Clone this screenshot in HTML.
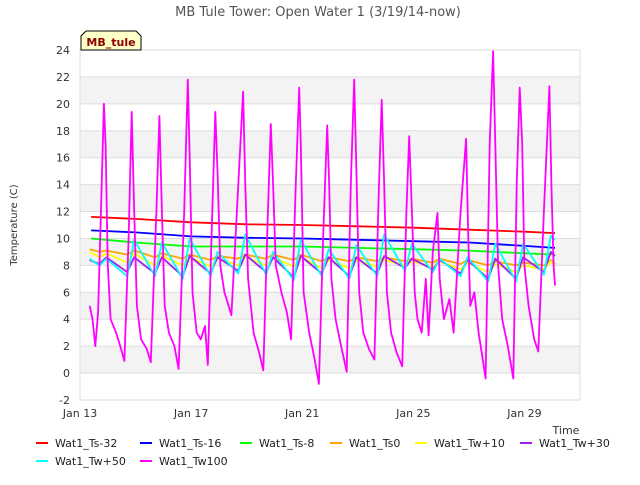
<!DOCTYPE html>
<html><head><meta charset="utf-8"><style>
body{margin:0;background:#fff;font-family:"Liberation Sans",sans-serif;}
svg text{font-family:"DejaVu Sans","Liberation Sans",sans-serif;}
</style></head><body>
<svg id="c" width="640" height="480" xmlns="http://www.w3.org/2000/svg">
<text x="318" y="16" text-anchor="middle" font-size="13" fill="#555">MB Tule Tower: Open Water 1 (3/19/14-now)</text>
<text transform="translate(17,225) rotate(-90)" text-anchor="middle" font-size="10" fill="#333">Temperature (C)</text>
<text x="566" y="434" text-anchor="middle" font-size="11" fill="#333">Time</text>
<g id="bands"></g><g id="grid"></g><g id="series"></g><g id="ticks"></g>
<rect x="80" y="50" width="500" height="350" fill="none" stroke="#ddd"/>
<g>
<path d="M81,50 L81,36 L86,31 L136,31 L141,36 L141,50 Z" fill="#ffffc8" stroke="#000"/>
<text x="111" y="46" text-anchor="middle" font-size="11" font-weight="bold" fill="#8b0000">MB_tule</text>
</g>
<g id="legend"></g>
</svg>
<script>
const yTicks=[-2,0,2,4,6,8,10,12,14,16,18,20,22,24];
const xTickDays=[0,4,8,12,16];
const xTickLabels=["Jan 13","Jan 17","Jan 21","Jan 25","Jan 29"];
const seriesNames=["Wat1_Ts-32","Wat1_Ts-16","Wat1_Ts-8","Wat1_Ts0","Wat1_Tw+10","Wat1_Tw+30","Wat1_Tw+50","Wat1_Tw100"];
const seriesColors=["#ff0000","#0000ff","#00ff00","#ffa500","#ffff00","#a020f0","#00ffff","#ff00ff"];
const smoothDays=[0.4,2,4,6,8,10,12,14,16,17.1];
const ts32=[11.6,11.45,11.2,11.05,11.0,10.9,10.8,10.65,10.5,10.4];
const ts16=[10.6,10.45,10.15,10.05,10.0,9.9,9.8,9.7,9.45,9.3];
const ts8=[10.0,9.7,9.4,9.4,9.4,9.3,9.2,9.1,8.9,8.8];
const tw50Peaks=[8.5,9.9,9.7,10.0,9.0,10.3,9.0,9.9,9.2,9.5,10.3,9.6,8.5,8.6,9.6,9.6,10.2];
const tw50Mins=[8.0,7.2,7.2,7.0,7.2,7.4,7.3,6.9,7.2,7.0,7.2,7.6,7.5,7.2,6.8,6.8,7.3];
const tw30Peaks=[8.6,8.6,8.6,8.7,8.6,8.8,8.6,8.7,8.6,8.6,8.7,8.5,8.4,8.4,8.5,8.6,9.0];
const tw30Mins=[8.1,7.5,7.4,7.2,7.4,7.6,7.5,7.1,7.4,7.2,7.4,7.8,7.7,7.4,7.0,7.0,7.5];
const ts0Peaks=[9.1,9.1,8.9,8.8,8.7,8.8,8.8,8.8,8.6,8.6,8.6,8.5,8.5,8.4,8.3,8.2,8.4];
const ts0Mins=[9.0,8.8,8.6,8.5,8.4,8.5,8.5,8.4,8.3,8.3,8.3,8.3,8.2,8.1,8.0,8.0,8.0];
const tw10Peaks=[8.9,8.9,8.7,8.6,8.5,8.6,8.6,8.6,8.4,8.4,8.4,8.3,8.3,8.2,8.1,8.0,8.3];
const tw10Mins=[8.6,8.2,8.0,8.0,7.9,8.0,8.0,7.9,7.8,7.8,7.9,8.0,7.9,7.7,7.5,7.5,7.7];
const tw100Days=[0.35,0.45,0.55,0.65,0.78,0.86,0.92,1.0,1.1,1.3,1.45,1.6,1.75,1.86,1.95,2.05,2.2,2.4,2.55,2.75,2.86,2.95,3.05,3.2,3.4,3.55,3.75,3.88,3.95,4.05,4.2,4.35,4.5,4.6,4.75,4.87,4.95,5.05,5.2,5.35,5.45,5.65,5.87,5.95,6.05,6.25,6.45,6.6,6.75,6.87,6.95,7.05,7.25,7.45,7.6,7.75,7.89,7.95,8.05,8.25,8.45,8.6,8.75,8.9,8.97,9.05,9.2,9.4,9.6,9.75,9.87,9.95,10.05,10.2,10.4,10.6,10.75,10.86,10.95,11.05,11.2,11.4,11.6,11.75,11.85,11.95,12.05,12.15,12.3,12.45,12.55,12.7,12.87,12.95,13.1,13.3,13.45,13.7,13.9,13.98,14.05,14.2,14.35,14.5,14.6,14.75,14.87,14.95,15.05,15.2,15.4,15.6,15.72,15.83,15.92,16.0,16.15,16.35,16.5,16.7,16.9,16.97,17.05,17.1];
const tw100Vals=[5.0,4.0,2.0,4.5,14,20.0,17,8,4,3,2,0.9,10,19.4,12,5,2.5,1.8,0.8,12,19.1,12,5,3,2,0.3,12,21.8,16,6,3,2.5,3.5,0.6,11,19.4,15,8,6,5,4.3,12,20.9,14,7,3,1.5,0.2,11,18.5,14,8,6,4.5,2.5,13,21.2,17,6,3,1,-0.8,10,18.4,14,7,4,2,0.1,14,21.8,15,6,3,1.8,1.0,13,20.3,14,6,3,1.5,0.5,12,17.6,12,6,4,3.0,7,2.8,9,11.9,7,4,5.5,3.0,12,17.4,10,5,6,3,1,-0.4,17,23.9,17,8,4,2,-0.4,14,21.2,17,8,5,2.5,1.6,12,21.3,14,8,6.5];

const X0=80,X1=580,Y0=400,Y1=50,D0=0,D1=18,V0=-2,V1=24;
const xs=d=>X0+(d-D0)/(D1-D0)*(X1-X0);
const ys=v=>Y0-(v-V0)/(V1-V0)*(Y0-Y1);
const NS="http://www.w3.org/2000/svg";
function mk(t,a,p){const e=document.createElementNS(NS,t);for(const k in a)e.setAttribute(k,a[k]);p.appendChild(e);return e;}
const bands=document.getElementById('bands'),grid=document.getElementById('grid'),ticks=document.getElementById('ticks'),series=document.getElementById('series'),legend=document.getElementById('legend');
for(let v=0;v<24;v+=4){const r=mk('rect',{x:X0,y:ys(v+2),width:X1-X0,height:ys(v)-ys(v+2),fill:'#f3f3f3'},bands);

}
yTicks.forEach(v=>{const l=mk('line',{x1:X0,x2:X1,y1:ys(v),y2:ys(v),stroke:'#ddd'},grid);


const t=mk('text',{x:70,y:ys(v)+4,'text-anchor':'end','font-size':11,fill:'#333'},ticks);t.textContent=v;

});
xTickDays.forEach((d,i)=>{const t=mk('text',{x:xs(d),y:417,'text-anchor':'middle','font-size':11,fill:'#333'},ticks);t.textContent=xTickLabels[i];

});
function diurnal(peaks,mins,start){const pts=[[0.35,start]];for(let i=0;i<peaks.length;i++){pts.push([i+0.7,mins[i]]);pts.push([i+0.95,peaks[i]]);}pts.push([17.1,peaks[peaks.length-1]-0.3]);return pts;}
const zip=(a,b)=>a.map((d,i)=>[d,b[i]]);
const data=[zip(smoothDays,ts32),zip(smoothDays,ts16),zip(smoothDays,ts8),diurnal(ts0Peaks,ts0Mins,9.2),diurnal(tw10Peaks,tw10Mins,9.0),diurnal(tw30Peaks,tw30Mins,8.4),diurnal(tw50Peaks,tw50Mins,8.5),zip(tw100Days,tw100Vals)];
[0,1,2,3,4,5,6,7].forEach(i=>{const p=mk('polyline',{points:data[i].map(q=>xs(q[0]).toFixed(1)+','+ys(q[1]).toFixed(1)).join(' '),fill:'none',stroke:seriesColors[i],'stroke-width':1.8,'stroke-linejoin':'round'},series);

});
const lx=[36,140,240,330,415,520,36,140];
seriesNames.forEach((n,i)=>{const y=i<6?443:461;const g=mk('g',{},legend);


mk('line',{x1:lx[i],x2:lx[i]+12,y1:y,y2:y,stroke:seriesColors[i],'stroke-width':2},g);
const t=mk('text',{x:lx[i]+19,y:y+4,'font-size':11,fill:'#222'},g);t.textContent=n;});
</script>
</body></html>
